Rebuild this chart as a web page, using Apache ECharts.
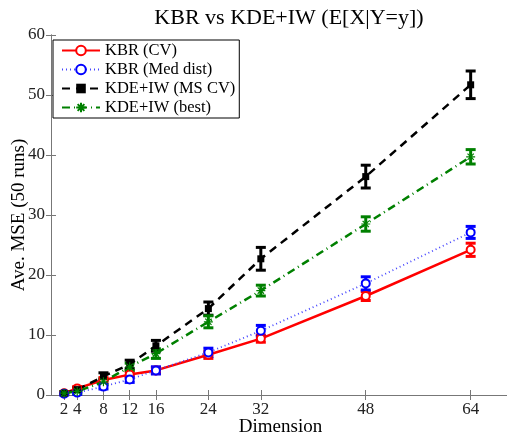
<!DOCTYPE html>
<html>
<head>
<meta charset="utf-8">
<script src="https://cdn.jsdelivr.net/npm/echarts@6/dist/echarts.min.js"></script>
<style>
  html, body { margin: 0; padding: 0; background: #fff; }
  #main { width: 507px; height: 438px; }
</style>
</head>
<body>
<div id="main"></div>
<script>
// dimensions on the x axis
var dims = [2, 4, 8, 12, 16, 24, 32, 48, 64];

// mean MSE per method
var kbrCv     = [0.3, 1.1, 2.5, 3.4, 4.1, 6.7, 9.4, 16.5, 24.2];
var kbrMed    = [0.2, 0.4, 1.4, 2.6, 4.1, 7.1, 10.7, 18.6, 27.1];
var kdeMsCv   = [0.3, 0.9, 3.1, 5.1, 8.2, 14.4, 22.7, 36.4, 51.7];
var kdeBest   = [0.3, 0.6, 2.2, 4.7, 6.9, 12.2, 17.4, 28.5, 39.7];

// half-width of the error bars
var kbrCvErr   = [0.2, 0.3, 0.4, 0.5, 0.5, 0.6, 0.6, 0.75, 1.1];
var kbrMedErr  = [0.2, 0.3, 0.4, 0.5, 0.6, 0.7, 0.9, 1.1, 1.0];
var kdeMsCvErr = [0.2, 0.3, 0.6, 0.7, 0.9, 1.1, 1.9, 1.9, 2.3];
var kdeBestErr = [0.2, 0.3, 0.5, 0.6, 0.8, 1.0, 0.9, 1.2, 1.2];

var names = ['KBR (CV)', 'KBR (Med dist)', 'KDE+IW (MS CV)', 'KDE+IW (best)'];
var colors = ['#ff0000', '#0000ff', '#000000', '#008000'];

var fontFam = 'Liberation Serif';

function pts(vals) {
    var out = [];
    for (var i = 0; i < dims.length; i++) out.push([dims[i], vals[i]]);
    return out;
}

function bars(vals, err) {
    var out = [];
    for (var i = 0; i < dims.length; i++) out.push([dims[i], vals[i] - err[i], vals[i] + err[i]]);
    return out;
}

function errSeries(vals, err, color) {
    return {
        type: 'custom',
        xAxisIndex: 0,
        yAxisIndex: 0,
        silent: true,
        z: 3,
        data: bars(vals, err),
        renderItem: function (params, api) {
            var x = api.value(0);
            var lo = api.coord([x, api.value(1)]);
            var hi = api.coord([x, api.value(2)]);
            var w = 5;
            var st = { stroke: color, lineWidth: 3 };
            return {
                type: 'group',
                children: [
                    { type: 'line', shape: { x1: lo[0], y1: lo[1], x2: hi[0], y2: hi[1] }, style: st },
                    { type: 'line', shape: { x1: lo[0] - w, y1: lo[1], x2: lo[0] + w, y2: lo[1] }, style: st },
                    { type: 'line', shape: { x1: hi[0] - w, y1: hi[1], x2: hi[0] + w, y2: hi[1] }, style: st }
                ]
            };
        }
    };
}

var star = 'path://M0,-1L0,1M-1,0L1,0M-0.7,-0.7L0.7,0.7M-0.7,0.7L0.7,-0.7';

var option = {
    backgroundColor: '#fff',
    animation: false,
    title: {
        text: 'KBR vs KDE+IW (E[X|Y=y])',
        left: 284,
        textAlign: 'center',
        top: 2,
        textStyle: { fontFamily: fontFam, fontSize: 22, fontWeight: 'normal', color: '#000' }
    },
    legend: {
        data: names,
        orient: 'vertical',
        left: 53,
        top: 40,
        padding: [2, 4, 2, 8],
        itemGap: 2,
        itemWidth: 38,
        itemHeight: 12,
        borderColor: '#000',
        borderWidth: 1,
        backgroundColor: '#fff',
        textStyle: { fontFamily: fontFam, fontSize: 16.5, color: '#000' }
    },
    grid: { left: 51, right: -3, top: 35, bottom: 43, outerBoundsMode: 'none', containLabel: false },
    xAxis: [{
        type: 'value',
        min: 0,
        max: 70,
        name: 'Dimension',
        nameLocation: 'middle',
        nameGap: 23,
        nameMoveOverlap: false,
        nameTextStyle: { fontFamily: fontFam, fontSize: 19, color: '#000' },
        splitLine: { show: false },
        axisLine: { lineStyle: { color: '#777' } },
        axisTick: {
            inside: true, length: 5, lineStyle: { color: '#777' },
            customValues: dims
        },
        axisLabel: {
            fontFamily: fontFam, fontSize: 17, color: '#222', margin: 6,
            customValues: dims
        }
    }, {
        type: 'value',
        position: 'top',
        min: 0,
        max: 70,
        splitLine: { show: false },
        axisLine: { show: true, lineStyle: { color: '#777' } },
        axisTick: { inside: true, length: 5, lineStyle: { color: '#777' }, customValues: dims },
        axisLabel: { show: false }
    }],
    yAxis: [{
        type: 'value',
        min: 0,
        max: 60,
        interval: 10,
        name: 'Ave. MSE (50 runs)',
        nameLocation: 'middle',
        nameGap: 22,
        nameMoveOverlap: false,
        nameTextStyle: { fontFamily: fontFam, fontSize: 19, color: '#000' },
        splitLine: { show: false },
        axisLine: { show: true, lineStyle: { color: '#777' } },
        axisTick: { show: true, inside: true, length: 5, lineStyle: { color: '#777' } },
        axisLabel: { fontFamily: fontFam, fontSize: 17, color: '#222', margin: 6 }
    }, {
        type: 'value',
        position: 'right',
        min: 0,
        max: 60,
        interval: 10,
        splitLine: { show: false },
        axisLine: { show: true, lineStyle: { color: '#777' } },
        axisTick: { show: true, inside: true, length: 5, lineStyle: { color: '#777' } },
        axisLabel: { show: false }
    }],
    series: [
        errSeries(kbrCv, kbrCvErr, colors[0]),
        errSeries(kbrMed, kbrMedErr, colors[1]),
        errSeries(kdeMsCv, kdeMsCvErr, colors[2]),
        errSeries(kdeBest, kdeBestErr, colors[3]),
        {
            name: names[0], type: 'line', data: pts(kbrCv), z: 4,
            symbol: 'emptyCircle', symbolSize: 8,
            itemStyle: { color: colors[0], borderWidth: 1.2 },
            lineStyle: { color: colors[0], width: 2.5, type: 'solid' }
        },
        {
            name: names[1], type: 'line', data: pts(kbrMed), z: 4,
            symbol: 'emptyCircle', symbolSize: 8,
            itemStyle: { color: colors[1], borderWidth: 1.2 },
            lineStyle: { color: '#4444ff', width: 1.8, type: [1, 3] }
        },
        {
            name: names[2], type: 'line', data: pts(kdeMsCv), z: 4,
            symbol: 'rect', symbolSize: 7,
            itemStyle: { color: colors[2] },
            lineStyle: { color: colors[2], width: 2.5, type: [8, 6] }
        },
        {
            name: names[3], type: 'line', data: pts(kdeBest), z: 4,
            symbol: star, symbolSize: 9,
            itemStyle: { color: colors[3], borderColor: colors[3], borderWidth: 1.2 },
            lineStyle: { color: colors[3], width: 2.5, type: [8, 4, 1, 4] }
        }
    ]
};

var chart = echarts.init(document.getElementById('main'));
chart.setOption(option);
</script>
</body>
</html>
